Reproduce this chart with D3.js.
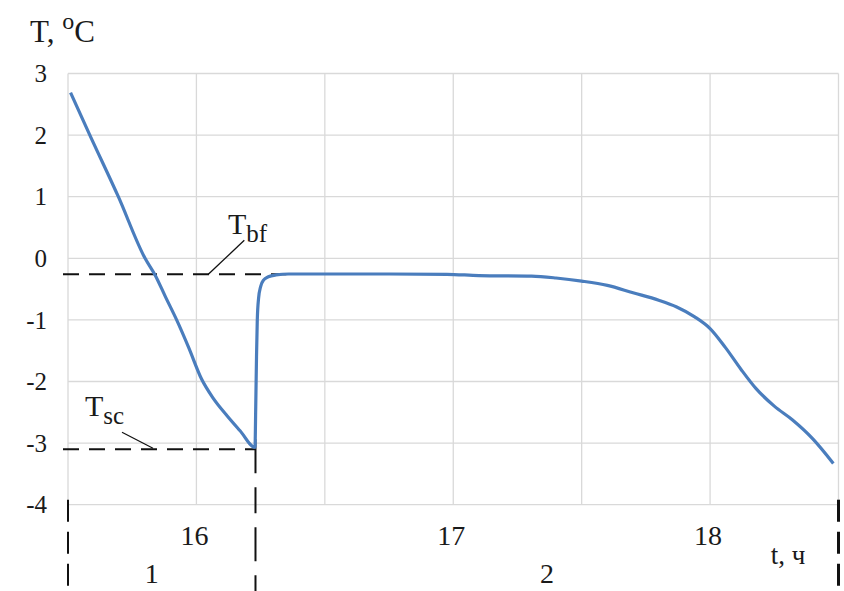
<!DOCTYPE html>
<html>
<head>
<meta charset="utf-8">
<script src="https://cdn.jsdelivr.net/npm/d3@7/dist/d3.min.js"></script>
<style>
  body { margin: 0; background: #fff; }
  svg text { fill: #1a1a1a; }
</style>
</head>
<body>
<div id="chart"></div>
<script>
// time, hours
var times = [15.51, 15.585, 15.696, 15.80, 15.839, 15.88, 15.923, 15.97, 16.02, 16.065,
             16.12, 16.17, 16.228, 16.231, 16.234, 16.237, 16.242, 16.25, 16.262, 16.28,
             16.31, 16.36, 16.50, 16.75, 16.975, 17.10, 17.305, 17.40, 17.50, 17.60,
             17.70, 17.80, 17.87, 17.94, 18.00, 18.06, 18.12, 18.18, 18.25, 18.32,
             18.40, 18.48];
// temperature, deg C
var temps = [2.69, 2.00, 1.00, 0.00, -0.27, -0.63, -1.00, -1.45, -1.96, -2.27,
             -2.56, -2.80, -3.07, -2.40, -1.60, -1.00, -0.65, -0.46, -0.35, -0.30,
             -0.27, -0.255, -0.255, -0.255, -0.26, -0.28, -0.29, -0.32, -0.37, -0.44,
             -0.56, -0.68, -0.79, -0.95, -1.14, -1.45, -1.80, -2.12, -2.40, -2.62,
             -2.93, -3.33];

var yTicks = [3, 2, 1, 0, -1, -2, -3, -4];
var xTicks = [16, 17, 18];
var xGrid = [15.5, 16, 16.5, 17, 17.5, 18, 18.5];

var tBf = -0.26, tBfEnd = 16.35;   // T_bf level and where the dashes stop
var tSc = -3.1, tScTime = 16.23;   // T_sc level and its time
var stageBounds = [15.5, 16.23, 18.5];
var stageNames = ["1", "2"];

var W = 844, H = 591;
var serif = "'Liberation Serif', 'Times New Roman', Tinos, 'DejaVu Serif', serif";

var x = d3.scaleLinear().domain([15.5, 18.5]).range([68, 838.5]);
var y = d3.scaleLinear().domain([-4, 3]).range([504.7, 73.5]);

var svg = d3.select("#chart").append("svg")
    .attr("width", W)
    .attr("height", H)
    .attr("font-family", serif)
    .style("font-family", serif);

// grid
svg.append("g").selectAll("line")
    .data(yTicks)
    .enter().append("line")
    .attr("x1", x(15.5)).attr("x2", x(18.5))
    .attr("y1", function(d) { return y(d); })
    .attr("y2", function(d) { return y(d); })
    .attr("stroke", "#d9d9d9").attr("stroke-width", 1.3);

svg.append("g").selectAll("line")
    .data(xGrid)
    .enter().append("line")
    .attr("x1", function(d) { return x(d); })
    .attr("x2", function(d) { return x(d); })
    .attr("y1", y(3)).attr("y2", y(-4))
    .attr("stroke", "#d9d9d9").attr("stroke-width", 1.3);

// y tick labels
svg.append("g").selectAll("text")
    .data(yTicks)
    .enter().append("text")
    .attr("x", 47)
    .attr("y", function(d) { return y(d); })
    .attr("dy", "0.35em")
    .attr("text-anchor", "end")
    .attr("font-size", 25)
    .text(function(d) { return d; });

// x tick labels
svg.append("g").selectAll("text")
    .data(xTicks)
    .enter().append("text")
    .attr("x", function(d) { return x(d) - 2; })
    .attr("y", y(-4) + 30)
    .attr("dy", "0.35em")
    .attr("text-anchor", "middle")
    .attr("font-size", 28)
    .text(function(d) { return d; });

// axis titles
var yt = svg.append("text")
    .attr("x", 30).attr("y", 42)
    .attr("font-size", 31);
yt.append("tspan").text("T, ");
yt.append("tspan").attr("dy", -13).attr("font-size", 24).text("o");
yt.append("tspan").attr("dy", 13).text("C");

svg.append("text")
    .attr("x", 788).attr("y", 555)
    .attr("dy", "0.35em")
    .attr("text-anchor", "middle")
    .attr("font-size", 27)
    .text("t, ч");

// reference dashed lines
svg.append("line")
    .attr("x1", x(15.5) - 5).attr("x2", x(tBfEnd))
    .attr("y1", y(tBf)).attr("y2", y(tBf))
    .attr("stroke", "#111").attr("stroke-width", 2)
    .attr("stroke-dasharray", "16,10");

svg.append("line")
    .attr("x1", x(15.5) - 5).attr("x2", x(tScTime))
    .attr("y1", y(tSc)).attr("y2", y(tSc))
    .attr("stroke", "#111").attr("stroke-width", 2)
    .attr("stroke-dasharray", "16,10");

// stage boundaries
svg.append("g").selectAll("line")
    .data(stageBounds)
    .enter().append("line")
    .attr("x1", function(d) { return x(d); })
    .attr("x2", function(d) { return x(d); })
    .attr("y1", function(d, i) { return i == 1 ? y(tSc) - 10 : y(-4) - 5; })
    .attr("y2", H)
    .attr("stroke", "#111").attr("stroke-width", function(d, i) { return i == 2 ? 3 : 2; })
    .attr("stroke-dasharray", function(d, i) { return i == 1 ? "34,14,26,14" : "22,10"; });

svg.append("g").selectAll("text")
    .data(stageNames)
    .enter().append("text")
    .attr("x", function(d, i) { return (x(stageBounds[i]) + x(stageBounds[i + 1])) / 2 - (i == 0 ? 10 : 0); })
    .attr("y", 573)
    .attr("dy", "0.35em")
    .attr("text-anchor", "middle")
    .attr("font-size", 28)
    .text(function(d) { return d; });

// the curve
var pts = times.map(function(t, i) { return [t, temps[i]]; });
var line = d3.line()
    .x(function(d) { return x(d[0]); })
    .y(function(d) { return y(d[1]); })
    .curve(d3.curveMonotoneX);

svg.append("path")
    .datum(pts)
    .attr("fill", "none")
    .attr("stroke", "#4a7dbd")
    .attr("stroke-width", 3.2)
    .attr("stroke-linejoin", "round")
    .attr("d", line);

// T_bf label with leader
svg.append("line")
    .attr("x1", x(tBfEnd) - 78).attr("y1", y(tBf))
    .attr("x2", x(tBfEnd) - 42).attr("y2", y(tBf) - 34)
    .attr("stroke", "#111").attr("stroke-width", 1.3);
var bf = svg.append("text")
    .attr("x", 228).attr("y", 234)
    .attr("font-size", 30);
bf.append("tspan").text("T");
bf.append("tspan").attr("dy", 8).attr("font-size", 25).text("bf");

// T_sc label with leader
svg.append("line")
    .attr("x1", 122).attr("y1", y(tSc) - 17)
    .attr("x2", 153).attr("y2", y(tSc) - 1)
    .attr("stroke", "#111").attr("stroke-width", 1.2);
var sc = svg.append("text")
    .attr("x", 85).attr("y", 416)
    .attr("font-size", 30);
sc.append("tspan").text("T");
sc.append("tspan").attr("dy", 8).attr("font-size", 25).text("sc");
</script>
</body>
</html>
